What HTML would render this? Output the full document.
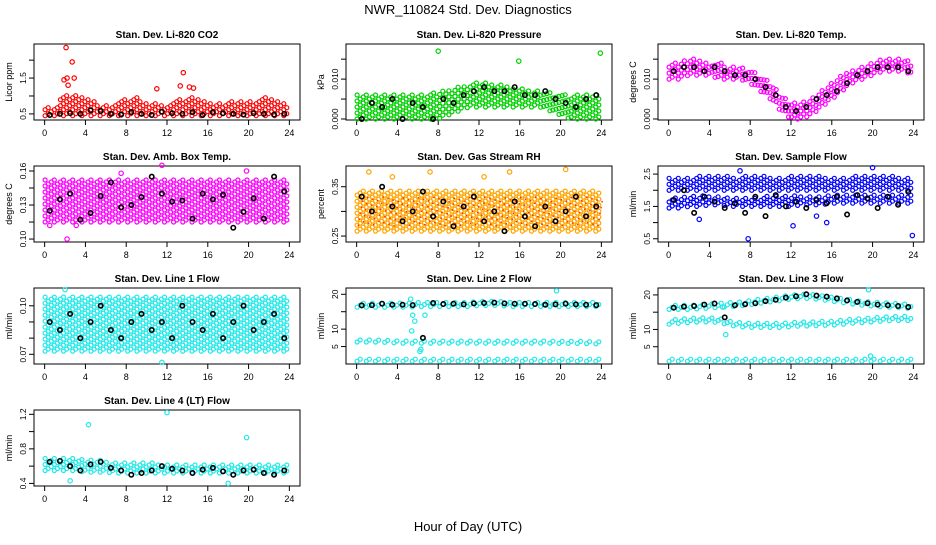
<!DOCTYPE html>
<html><head><meta charset="utf-8"><style>
body{margin:0;background:#fff;font-family:"Liberation Sans",Arial,sans-serif}
svg text{font-family:"Liberation Sans",Arial,sans-serif}
</style></head><body>
<svg id="c" width="936" height="540" xmlns="http://www.w3.org/2000/svg">
<text x="468" y="14" text-anchor="middle" font-size="13">NWR_110824 Std. Dev. Diagnostics</text>
<text x="468" y="531" text-anchor="middle" font-size="13">Hour of Day (UTC)</text>
</svg>
<script>
const xTicks=[0,4,8,12,16,20,24];
// CO2
const co2Lo=[0.45,0.45,0.45,0.45,0.45,0.45,0.45,0.45,0.45,0.45,0.45,0.45,0.45,0.45,0.45,0.45,0.45,0.45,0.45,0.45,0.45,0.45,0.45,0.45,0.45];
const co2Hi=[0.6,0.75,1.0,1.0,0.95,0.8,0.7,0.75,0.9,0.95,0.8,0.75,0.7,0.85,0.95,0.9,0.8,0.75,0.85,0.85,0.8,0.9,0.95,0.9,0.6];
const co2Black=[0.47,0.5,0.52,0.5,0.6,0.58,0.5,0.48,0.55,0.5,0.47,0.56,0.52,0.5,0.55,0.47,0.55,0.52,0.5,0.48,0.52,0.5,0.48,0.5];
const co2Out=[[2.1,2.35],[2.7,1.95],[2.2,1.5],[2.3,1.3],[1.9,1.45],[2.9,1.5],[11,1.2],[13.3,1.28],[13.6,1.65],[14.2,1.25],[14.6,1.22]];
// Pressure
const prLo=[0,0,0,0,0,0,0,0,0,0.001,0.002,0.003,0.003,0.003,0.003,0.003,0.003,0.003,0.003,0.002,0.001,0,0,0,0];
const prHi=[0.006,0.006,0.006,0.006,0.006,0.006,0.006,0.006,0.0065,0.007,0.008,0.0085,0.009,0.009,0.0085,0.008,0.0075,0.007,0.007,0.0065,0.006,0.006,0.006,0.006,0.006];
const prBlack=[0,0.004,0.003,0.005,0,0.004,0.003,0,0.005,0.004,0.006,0.007,0.008,0.007,0.007,0.008,0.006,0.006,0.007,0.005,0.004,0.003,0.005,0.006];
const prOut=[[8,0.017],[15.9,0.0145],[23.9,0.0165]];
// Li-820 temp
const tpLo=[0.010,0.010,0.011,0.011,0.011,0.010,0.010,0.010,0.009,0.007,0.005,0.002,0.000,0.000,0.001,0.003,0.005,0.007,0.009,0.010,0.011,0.012,0.012,0.012,0.011];
const tpHi=[0.014,0.014,0.015,0.015,0.014,0.014,0.013,0.013,0.012,0.011,0.009,0.006,0.004,0.004,0.005,0.007,0.009,0.011,0.012,0.013,0.014,0.015,0.015,0.015,0.014];
const tpBlack=[0.012,0.013,0.013,0.012,0.013,0.012,0.011,0.011,0.010,0.008,0.006,0.003,0.002,0.003,0.005,0.006,0.007,0.009,0.011,0.012,0.013,0.013,0.013,0.012];
const tpOut=[];
// Amb box temp
const abLo=[0.115,0.115,0.115,0.115,0.115,0.115,0.115,0.115,0.115,0.115,0.115,0.115,0.115,0.115,0.115,0.115,0.115,0.115,0.115,0.115,0.115,0.115,0.115,0.115,0.115];
const abHi=[0.152,0.152,0.152,0.152,0.152,0.152,0.152,0.152,0.152,0.152,0.152,0.152,0.152,0.152,0.152,0.152,0.152,0.152,0.152,0.152,0.152,0.152,0.152,0.152,0.152];
const abBlack=[0.125,0.135,0.14,0.117,0.123,0.138,0.15,0.128,0.13,0.137,0.155,0.14,0.133,0.134,0.118,0.14,0.135,0.139,0.11,0.124,0.136,0.118,0.155,0.142];
const abOut=[[2.2,0.10],[11.5,0.165],[19.8,0.16],[7.5,0.158],[0.5,0.112],[3.1,0.112]];
// RH
const rhLo=[0.26,0.26,0.26,0.26,0.26,0.26,0.26,0.26,0.26,0.26,0.26,0.26,0.26,0.26,0.26,0.26,0.26,0.26,0.26,0.26,0.26,0.26,0.26,0.26,0.26];
const rhHi=[0.34,0.34,0.34,0.34,0.34,0.34,0.34,0.34,0.34,0.34,0.34,0.34,0.34,0.34,0.34,0.34,0.34,0.34,0.34,0.34,0.34,0.34,0.34,0.34,0.34];
const rhBlack=[0.33,0.3,0.35,0.31,0.28,0.3,0.34,0.29,0.32,0.27,0.31,0.33,0.28,0.3,0.26,0.32,0.29,0.27,0.31,0.28,0.3,0.33,0.29,0.31];
const rhOut=[[1.2,0.38],[3.5,0.37],[7.2,0.38],[12.5,0.37],[15,0.38],[20.5,0.385]];
// Sample flow (upper dense band + lower band)
const sfLoA=[2.0,2.0,2.0,2.0,2.0,2.0,2.0,2.0,2.0,2.0,2.0,2.0,2.0,2.0,2.0,2.0,2.0,2.0,2.0,2.0,2.0,2.0,2.0,2.0,2.0];
const sfHiA=[2.4,2.4,2.4,2.4,2.45,2.45,2.4,2.4,2.45,2.45,2.4,2.4,2.4,2.45,2.45,2.4,2.4,2.4,2.4,2.45,2.45,2.45,2.4,2.4,2.4];
const sfLoB=[1.45,1.45,1.5,1.5,1.55,1.55,1.5,1.5,1.5,1.5,1.5,1.5,1.5,1.55,1.55,1.55,1.6,1.6,1.6,1.6,1.6,1.6,1.6,1.6,1.6];
const sfHiB=[1.75,1.75,1.8,1.8,1.8,1.8,1.75,1.75,1.75,1.75,1.8,1.8,1.8,1.8,1.8,1.8,1.85,1.85,1.85,1.85,1.85,1.85,1.85,1.85,1.85];
const sfBlack=[1.7,2.0,1.3,1.8,1.65,1.45,1.6,1.3,1.8,1.2,1.85,1.5,1.65,1.45,1.7,1.6,1.8,1.25,1.85,1.75,1.45,1.8,1.55,1.95];
const sfOut=[[7.8,0.5],[12.2,0.9],[15.5,1.0],[23.9,0.6],[14.5,1.2],[3,1.1],[20,2.7],[7,2.6]];
// Line 1
const l1Lo=[0.072,0.072,0.072,0.072,0.072,0.072,0.072,0.072,0.072,0.072,0.072,0.072,0.072,0.072,0.072,0.072,0.072,0.072,0.072,0.072,0.072,0.072,0.072,0.072,0.072];
const l1Hi=[0.105,0.105,0.105,0.105,0.105,0.105,0.105,0.105,0.105,0.105,0.105,0.105,0.105,0.105,0.105,0.105,0.105,0.105,0.105,0.105,0.105,0.105,0.105,0.105,0.105];
const l1Black=[0.09,0.085,0.095,0.08,0.09,0.1,0.085,0.08,0.09,0.095,0.085,0.09,0.08,0.1,0.09,0.085,0.095,0.08,0.09,0.1,0.085,0.09,0.095,0.08];
const l1Out=[[11.5,0.065],[2,0.11]];
// Line 2 (three bands)
const l2LoA=[16.3,16.3,16.3,16.3,16.3,16.3,16.5,16.5,16.5,16.5,16.5,16.5,16.8,16.8,16.8,16.5,16.5,16.5,16.5,16.5,16.5,16.5,16.5,16.5,16.5];
const l2HiA=[17.3,17.3,17.3,17.3,17.3,17.3,17.5,17.5,17.5,17.5,17.5,17.5,17.8,17.8,17.8,17.5,17.5,17.5,17.5,17.5,17.5,17.5,17.5,17.5,17.5];
const l2LoB=[6.3,6.3,6.3,6.2,6.0,6.0,6.0,6.0,6.0,6.0,6.0,6.0,6.0,6.0,6.0,6.0,6.0,6.0,6.0,6.0,5.9,5.9,5.9,5.8,5.8];
const l2HiB=[7.1,7.1,7.2,7.0,6.8,6.8,6.8,6.8,6.8,6.8,6.8,6.8,6.8,6.8,6.8,6.8,6.8,6.8,6.8,6.8,6.6,6.6,6.6,6.5,6.5];
const l2LoC=[0.8,0.8,0.8,0.8,0.8,0.8,0.8,0.8,0.8,0.8,0.8,0.8,0.8,0.8,0.8,0.8,0.8,0.8,0.8,0.8,0.8,0.8,0.8,0.8,0.8];
const l2HiC=[1.3,1.3,1.3,1.3,1.3,1.3,1.3,1.3,1.3,1.3,1.3,1.3,1.3,1.3,1.3,1.3,1.3,1.3,1.3,1.3,1.3,1.3,1.3,1.3,1.3];
const l2Black=[16.8,16.9,17.3,17.0,17.0,16.9,7.5,17.5,17.2,17.3,17.1,17.4,17.5,17.6,17.4,17.3,17.3,17.2,17.0,17.1,17.3,17.1,17.0,16.9];
const l2Out=[[5.5,14],[5.7,12.3],[5.4,9.5],[6.3,4.2],[6.2,3.6],[19.6,21],[5.3,18.6],[6.7,14]];
// Line 3 (three bands)
const l3LoA=[15.8,15.8,15.8,16.0,16.2,16.4,16.6,16.8,17.2,17.6,18.0,18.4,18.8,19.0,19.0,18.6,18.2,17.8,17.4,17.0,16.8,16.6,16.4,16.2,16.0];
const l3HiA=[17.0,17.0,17.2,17.4,17.6,17.8,18.0,18.2,18.6,19.0,19.4,19.8,20.2,20.4,20.2,19.8,19.4,19.0,18.6,18.2,17.8,17.6,17.4,17.2,17.0];
const l3LoB=[11.5,11.8,12.0,12.2,12.2,12.0,11.2,10.8,10.6,10.6,10.6,10.6,10.8,11.0,11.0,11.2,11.2,11.5,11.8,12.0,12.2,12.4,12.6,12.6,12.6];
const l3HiB=[12.5,12.8,13.0,13.3,13.3,13.2,12.2,11.8,11.6,11.6,11.6,11.6,11.8,12.0,12.0,12.2,12.3,12.6,12.9,13.1,13.3,13.5,13.7,13.7,13.7];
const l3LoC=[0.8,0.8,0.8,0.8,0.8,0.8,0.8,0.8,0.8,0.8,0.8,0.8,0.8,0.8,0.8,0.8,0.8,0.8,0.8,0.8,0.8,0.8,0.8,0.8,0.8];
const l3HiC=[1.3,1.3,1.3,1.3,1.3,1.3,1.3,1.3,1.3,1.3,1.3,1.3,1.3,1.3,1.3,1.3,1.3,1.3,1.3,1.3,1.3,1.3,1.3,1.3,1.3];
const l3Black=[16.3,16.6,16.8,17.2,17.5,13.5,17.0,17.3,17.6,18.2,18.6,19.2,19.6,20.2,19.8,19.5,19.0,18.4,18.0,17.6,17.2,17.0,16.8,16.5];
const l3Out=[[5.6,8.5],[19.6,21.5],[19.8,2.3],[5.3,16.5]];
// Line 4 LT
const l4Lo=[0.55,0.55,0.55,0.55,0.53,0.53,0.53,0.52,0.52,0.52,0.52,0.52,0.52,0.52,0.52,0.52,0.52,0.52,0.52,0.52,0.52,0.52,0.52,0.52,0.52];
const l4Hi=[0.68,0.68,0.68,0.68,0.66,0.66,0.66,0.64,0.64,0.63,0.63,0.62,0.62,0.62,0.62,0.62,0.62,0.62,0.62,0.62,0.62,0.62,0.62,0.62,0.62];
const l4Black=[0.65,0.66,0.6,0.55,0.62,0.65,0.58,0.55,0.5,0.52,0.55,0.6,0.57,0.55,0.52,0.56,0.58,0.54,0.5,0.55,0.56,0.52,0.5,0.55];
const l4Out=[[4.3,1.08],[12,1.22],[19.8,0.93],[18,0.4],[2.5,0.43]];

const NS="http://www.w3.org/2000/svg";
const svg=document.getElementById('c');
function mk(t,a,p){const e=document.createElementNS(NS,t);for(const k in a)e.setAttribute(k,a[k]);(p||svg).appendChild(e);return e;}

const panels=[
 {title:"Stan. Dev. Li-820 CO2",yl:"Licor ppm",x:34,y:44,ymin:0.33,ymax:2.45,ticks:[0.5,1,1.5,2],labs:{0.5:"0.5",1.5:"1.5"},col:"#ff0000",bands:[[co2Lo,co2Hi]],black:co2Black,out:co2Out},
 {title:"Stan. Dev. Li-820 Pressure",yl:"kPa",x:346,y:44,ymin:-0.00025,ymax:0.0188,ticks:[0,0.005,0.010,0.015],labs:{0:"0.000",0.010:"0.010"},col:"#00d000",bands:[[prLo,prHi]],black:prBlack,out:prOut},
 {title:"Stan. Dev. Li-820 Temp.",yl:"degrees C",x:658,y:44,ymin:-0.00025,ymax:0.0188,ticks:[0,0.005,0.010,0.015],labs:{0:"0.000",0.010:"0.010"},col:"#ff00ff",bands:[[tpLo,tpHi]],black:tpBlack,out:tpOut},
 {title:"Stan. Dev. Amb. Box Temp.",yl:"degrees C",x:34,y:166,ymin:0.0974,ymax:0.1644,ticks:[0.10,0.115,0.13,0.145,0.16],labs:{0.10:"0.10",0.13:"0.13",0.16:"0.16"},col:"#ff00ff",bands:[[abLo,abHi]],black:abBlack,out:abOut},
 {title:"Stan. Dev. Gas Stream RH",yl:"percent",x:346,y:166,ymin:0.238,ymax:0.392,ticks:[0.25,0.30,0.35],labs:{0.25:"0.25",0.35:"0.35"},col:"#ffa500",bands:[[rhLo,rhHi]],black:rhBlack,out:rhOut,inner:"#ff3000"},
 {title:"Stan. Dev. Sample Flow",yl:"ml/min",x:658,y:166,ymin:0.4,ymax:2.75,ticks:[0.5,1,1.5,2,2.5],labs:{0.5:"0.5",1.5:"1.5",2.5:"2.5"},col:"#0000ff",bands:[[sfLoA,sfHiA],[sfLoB,sfHiB]],black:sfBlack,out:sfOut},
 {title:"Stan. Dev. Line 1 Flow",yl:"ml/min",x:34,y:288,ymin:0.064,ymax:0.111,ticks:[0.07,0.08,0.09,0.10],labs:{0.07:"0.07",0.10:"0.10"},col:"#22e8e8",bands:[[l1Lo,l1Hi]],black:l1Black,out:l1Out},
 {title:"Stan. Dev. Line 2 Flow",yl:"ml/min",x:346,y:288,ymin:0,ymax:21.8,ticks:[5,10,15,20],labs:{5:"5",10:"10",20:"20"},col:"#22e8e8",bands:[[l2LoA,l2HiA],[l2LoB,l2HiB],[l2LoC,l2HiC]],black:l2Black,out:l2Out},
 {title:"Stan. Dev. Line 3 Flow",yl:"ml/min",x:658,y:288,ymin:0,ymax:22,ticks:[5,10,15,20],labs:{5:"5",10:"10",20:"20"},col:"#22e8e8",bands:[[l3LoA,l3HiA],[l3LoB,l3HiB],[l3LoC,l3HiC]],black:l3Black,out:l3Out},
 {title:"Stan. Dev. Line 4 (LT) Flow",yl:"ml/min",x:34,y:410,ymin:0.37,ymax:1.25,ticks:[0.4,0.6,0.8,1.0,1.2],labs:{0.4:"0.4",0.8:"0.8",1.2:"1.2"},col:"#22e8e8",bands:[[l4Lo,l4Hi]],black:l4Black,out:l4Out}
];
const W=266,H=76;
panels.forEach((p,pi)=>{
 const g=mk('g',{});
 
 
 const sx=h=>p.x+W*0.04+h/24*W*0.92;
 const sy=v=>p.y+H-(v-p.ymin)/(p.ymax-p.ymin)*H;
 const t=mk('text',{x:p.x+W/2,y:p.y-6,'text-anchor':'middle','font-size':10,'font-weight':'bold'},g);t.textContent=p.title;
 
 const b=mk('rect',{x:p.x,y:p.y,width:W,height:H,fill:'none',stroke:'#000','stroke-width':1},g);
 
 xTicks.forEach(h=>{const X=sx(h);mk('line',{x1:X,x2:X,y1:p.y+H,y2:p.y+H+5,stroke:'#000'},g);
  const tt=mk('text',{x:X,y:p.y+H+16,'text-anchor':'middle','font-size':9},g);tt.textContent=h;
  });
 p.ticks.forEach(v=>{const Y=sy(v);mk('line',{x1:p.x,x2:p.x-5,y1:Y,y2:Y,stroke:'#000'},g);
  const lab=p.labs[v];if(lab!==undefined){const tt=mk('text',{x:p.x-8,y:Y,'text-anchor':'middle','font-size':8.5,transform:`rotate(-90 ${p.x-8} ${Y})`},g);tt.textContent=lab;
  }});
 const yt=mk('text',{x:p.x-22,y:p.y+H/2,'text-anchor':'middle','font-size':9,transform:`rotate(-90 ${p.x-22} ${p.y+H/2})`},g);yt.textContent=p.yl;
 
 const pts=mk('g',{fill:'none',stroke:p.col,'stroke-width':1.2},g);
 
 p.bands.forEach(([lo,hi])=>{
  let ci=0;
  for(let h=0.05;h<=23.9;h+=0.3,ci++){
   const i=Math.min(23,Math.floor(h)),f=h-i;
   const l=lo[i]+(lo[i+1]-lo[i])*f,u=hi[i]+(hi[i+1]-hi[i])*f;
   const y0=sy(l),y1=sy(u);
   for(let Y=y0-(ci%3)*2;Y>=y1-1;Y-=6){
    mk('circle',{cx:sx(h).toFixed(1),cy:Y.toFixed(1),r:2},pts);
   }
  }
 });
 p.out.forEach(([h,v])=>{mk('circle',{cx:sx(h),cy:sy(v),r:2.2},pts);});
 if(p.inner){const ig=mk('g',{fill:p.inner,stroke:'none'},g);
  for(let h=0.1;h<=23.9;h+=0.5){for(let k=0;k<5;k++){mk('rect',{x:sx(h+k*0.1),y:sy(p.bands[0][0][0])-6-k*6-(h*7%5),width:1.5,height:1.5},ig);}}}
 const bg=mk('g',{fill:'none',stroke:'#000','stroke-width':1.6},g);
 
 p.black.forEach((v,i)=>{mk('circle',{cx:sx(i+0.5),cy:sy(v),r:2.2},bg);});
});
</script>
</body></html>
